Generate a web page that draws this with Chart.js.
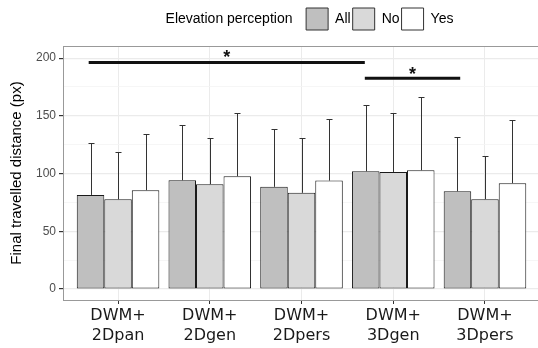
<!DOCTYPE html>
<html><head><meta charset="utf-8">
<script src="https://cdn.jsdelivr.net/npm/chart.js@4.4.1/dist/chart.umd.min.js"></script>
<style>html,body{margin:0;padding:0;background:#fff}#wrap{width:538px;height:348px}</style>
</head><body><div id="wrap"><canvas id="c" width="538" height="348"></canvas></div>
<script>
// ---- data ----
const categories = [['DWM+','2Dpan'],['DWM+','2Dgen'],['DWM+','2Dpers'],['DWM+','3Dgen'],['DWM+','3Dpers']];
const seriesNames = ['All','No','Yes'];
const legendTitle = 'Elevation perception';
const allMeans = [81.5, 94.2, 88.5, 102.0, 84.7];
const noMeans  = [77.8, 90.8, 83.3, 101.4, 77.8];
const yesMeans = [85.6, 97.7, 93.9, 102.9, 91.7];
const allSd = [44.7, 47.8, 50.4, 57.6, 46.7];
const noSd  = [41.2, 40.0, 47.5, 50.8, 37.5];
const yesSd = [48.4, 55.0, 53.6, 63.6, 54.7];
const yTickValues = [0, 25, 50, 75, 100, 125, 150, 175, 200];
const yMajorTicks = [0, 50, 100, 150, 200];
const sig1X = [-0.32, 2.69];
const sig1Y = [196.3, 196.3];
const sig2X = [2.69, 3.73];
const sig2Y = [182.5, 182.5];
const starX = [1.185, 3.21];
const starY = [203.5, 188.8];
const starText = ['*', '*'];

const fills = ['#bfbfbf', '#d9d9d9', '#ffffff'];
const means = [allMeans, noMeans, yesMeans];
const sds = [allSd, noSd, yesSd];

const barSets = seriesNames.map((n, k) => ({
  type: 'bar',
  label: n,
  xAxisID: 'x',
  yAxisID: 'y',
  data: means[k].map((v, i) => ({x: i, y: v})),
  backgroundColor: fills[k],
  borderColor: '#1a1a1a',
  borderWidth: 1,
  borderSkipped: false,
  categoryPercentage: 0.9,
  barPercentage: 1.0,
  order: 2
}));
const lineSets = [[sig1X, sig1Y], [sig2X, sig2Y]].map(([xs, ys]) => ({
  type: 'line',
  label: '',
  xAxisID: 'x',
  yAxisID: 'y',
  data: xs.map((x, i) => ({x, y: ys[i]})),
  borderColor: '#111',
  borderWidth: 3,
  pointRadius: 0,
  fill: false,
  order: 1
}));

const errorBars = {
  id: 'errorBars',
  afterDatasetsDraw(chart) {
    const ctx = chart.ctx, y = chart.scales.y;
    ctx.save();
    ctx.strokeStyle = '#333';
    ctx.lineWidth = 1;
    seriesNames.forEach((n, k) => {
      const meta = chart.getDatasetMeta(k);
      meta.data.forEach((el, i) => {
        const x = Math.round(el.x) + 0.5;
        const top = Math.round(y.getPixelForValue(means[k][i] + sds[k][i])) + 0.5;
        ctx.beginPath();
        ctx.moveTo(x, el.y);
        ctx.lineTo(x, top);
        ctx.moveTo(x - 3, top);
        ctx.lineTo(x + 3, top);
        ctx.stroke();
      });
    });
    ctx.restore();
  }
};
const stars = {
  id: 'stars',
  afterDatasetsDraw(chart) {
    const ctx = chart.ctx, xs = chart.scales.x, ys = chart.scales.y;
    ctx.save();
    ctx.fillStyle = '#111';
    ctx.font = 'bold 18px "Liberation Sans"';
    ctx.textAlign = 'center';
    ctx.textBaseline = 'alphabetic';
    starText.forEach((t, i) => {
      ctx.fillText(t, xs.getPixelForValue(starX[i]), ys.getPixelForValue(starY[i]) + 9);
    });
    ctx.restore();
  }
};
const panelTop = {
  id: 'panelTop',
  beforeDatasetsDraw(chart) {
    const {ctx, chartArea: a} = chart;
    ctx.save();
    ctx.strokeStyle = '#999';
    ctx.lineWidth = 1;
    ctx.beginPath();
    ctx.moveTo(a.left, Math.round(a.top) + 0.5);
    ctx.lineTo(a.right, Math.round(a.top) + 0.5);
    ctx.stroke();
    ctx.restore();
  }
};
const legendShift = {
  id: 'legendShift',
  afterLayout(chart) {
    chart.legend.left += 26;
    chart.legend.right += 26;
  }
};

new Chart(document.getElementById('c'), {
  type: 'bar',
  data: {datasets: barSets.concat(lineSets)},
  plugins: [errorBars, stars, panelTop, legendShift],
  options: {
    responsive: false,
    animation: false,
    devicePixelRatio: 1,
    layout: {padding: {top: 6, left: 0, right: 0, bottom: 0}},
    plugins: {
      tooltip: {enabled: false},
      legend: {
        position: 'top',
        align: 'center',
        labels: {
          boxWidth: 22,
          boxHeight: 22,
          padding: 2,
          color: '#000',
          font: {family: 'Liberation Sans', size: 14},
          generateLabels: () => [{
            text: legendTitle + '   ', fillStyle: 'rgba(0,0,0,0)', strokeStyle: 'rgba(0,0,0,0)',
            lineWidth: 0, hidden: false, datasetIndex: -1
          }].concat(seriesNames.map((n, k) => ({
            text: n, fillStyle: fills[k], strokeStyle: '#333', lineWidth: 1, hidden: false, datasetIndex: k
          })))
        }
      }
    },
    scales: {
      x: {
        type: 'linear',
        min: -0.6,
        max: 4.578,
        offset: false,
        afterBuildTicks: s => { s.ticks = categories.map((_, i) => ({value: i})); },
        afterFit: s => { s.height = 48; },
        grid: {offset: false, color: '#ebebeb', lineWidth: 1, tickLength: 4, tickColor: '#333'},
        border: {display: true, color: '#999', width: 1},
        ticks: {
          callback: v => categories[v],
          font: {family: 'DejaVu Sans', size: 16, lineHeight: 1.25},
          color: '#1a1a1a',
          padding: 2,
          maxRotation: 0,
          autoSkip: false
        }
      },
      xTop: {
        type: 'linear',
        position: 'top',
        min: 0,
        max: 1,
        afterFit: s => { s.height = 6; },
        grid: {display: false, drawTicks: false},
        border: {display: false},
        ticks: {display: false}
      },
      y: {
        min: -9.5,
        max: 210.5,
        afterBuildTicks: s => { s.ticks = yTickValues.map(v => ({value: v})); },
        afterFit: s => { s.width = 63; },
        grid: {
          color: c => yMajorTicks.includes(c.tick && c.tick.value) ? '#ebebeb' : '#f4f4f4',
          lineWidth: c => yMajorTicks.includes(c.tick && c.tick.value) ? 1.2 : 0.8,
          tickLength: 4,
          tickColor: c => yMajorTicks.includes(c.tick && c.tick.value) ? '#333' : 'rgba(0,0,0,0)'
        },
        border: {display: true, color: '#999', width: 1},
        ticks: {
          callback: v => yMajorTicks.includes(v) ? String(v) : '',
          font: {family: 'Liberation Sans', size: 12},
          color: '#4d4d4d',
          padding: 3
        },
        title: {
          display: true,
          text: 'Final travelled distance (px)',
          font: {family: 'Liberation Sans', size: 15},
          color: '#000',
          padding: {top: 8, bottom: 0}
        }
      }
    }
  }
});
</script></body></html>
